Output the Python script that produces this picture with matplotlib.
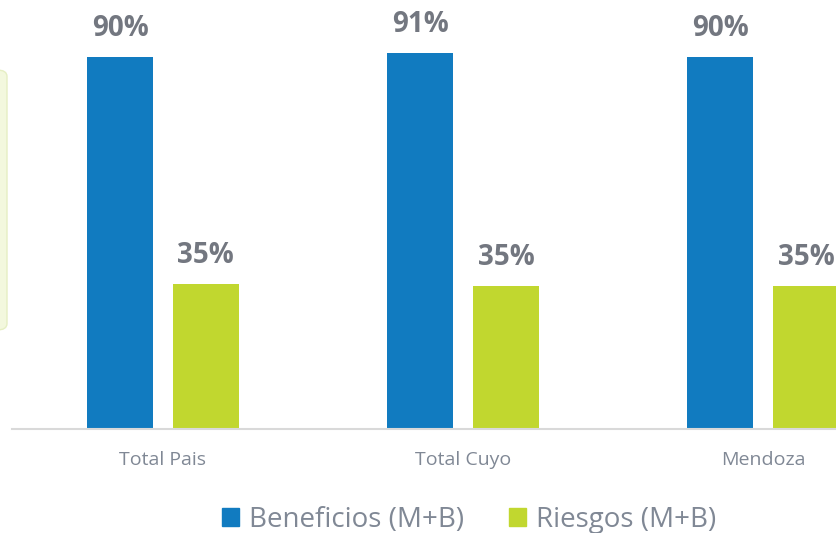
import matplotlib.pyplot as plt
import numpy as np
from matplotlib.patches import FancyBboxPatch, Patch

plt.rcParams["font.family"] = ["Open Sans", "DejaVu Sans"]

categories = ["Total Pais", "Total Cuyo", "Mendoza"]
beneficios = [90, 91, 90]
riesgos = [35.1, 34.7, 34.7]
series_names = ["Beneficios (M+B)", "Riesgos (M+B)"]

blue = "#117BC0"
green = "#C1D72F"
label_grey = "#737780"
text_grey = "#808895"

fig = plt.figure(figsize=(8.36, 5.33), dpi=100)
ax = fig.add_axes([12 / 836, 1 - 429 / 533, 1 - 12 / 836, 429 / 533])

x = np.arange(len(categories))
width = 0.222
off = 0.143
bars_b = ax.bar(x - off, beneficios, width, color=blue)
bars_r = ax.bar(x + off, riesgos, width, color=green)

for bars, vals in ((bars_b, beneficios), (bars_r, riesgos)):
    for b, v in zip(bars, vals):
        ax.annotate(f"{round(v)}%", (b.get_x() + b.get_width() / 2, v),
                    xytext=(0, 15), textcoords="offset points",
                    ha="center", va="baseline", fontsize=20,
                    fontweight="bold", color=label_grey, clip_on=False)

ax.set_xlim(-0.503, 2.243)
ax.set_ylim(0, 103.8)
ax.set_yticks([])
ax.set_xticks(x, categories)
ax.tick_params(axis="x", length=0, pad=16, labelsize=14, labelcolor=text_grey)
for s in ("top", "left", "right"):
    ax.spines[s].set_visible(False)
ax.spines["bottom"].set_color("#D9D9D9")
ax.spines["bottom"].set_linewidth(1.5)

# pale box cut off at the left edge
box = FancyBboxPatch((-20 / 836, 1 - 330 / 533), 27 / 836, 260 / 533,
                     boxstyle="round,pad=0,rounding_size=0.012",
                     transform=fig.transFigure, facecolor="#F3F8DE",
                     edgecolor="#E6EFC4", linewidth=1)
fig.patches.append(box)

handles = [Patch(color=blue), Patch(color=green)]
fig.legend(handles, series_names, loc="center", bbox_to_anchor=(469 / 836, 1 - 520 / 533),
           ncol=2, frameon=False, fontsize=20, labelcolor=text_grey,
           handlelength=0.61, handleheight=0.61, handletextpad=0.36,
           columnspacing=1.62, borderpad=0)

fig.savefig("out.png", dpi=100)
